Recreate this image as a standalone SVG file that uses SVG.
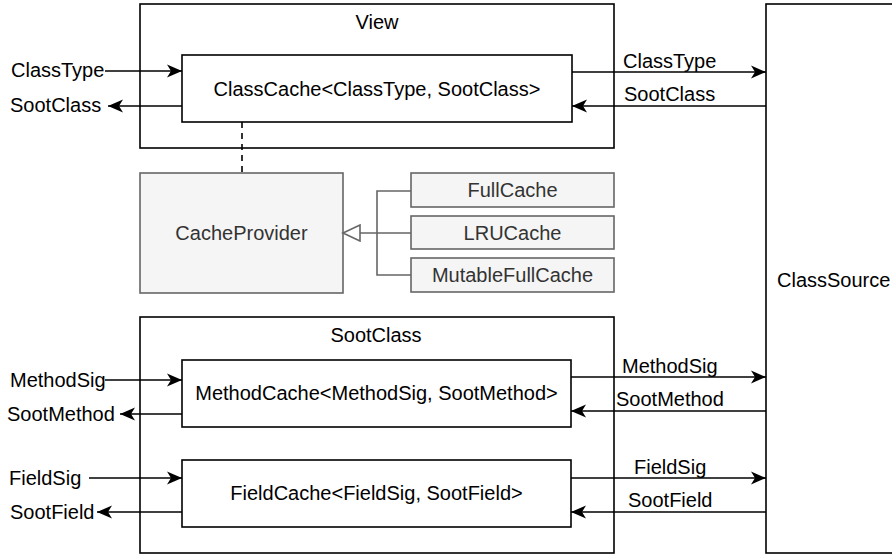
<svg xmlns="http://www.w3.org/2000/svg" width="892" height="556" viewBox="0 0 892 556">
<style>
text{font-family:"Liberation Sans",Arial,sans-serif;font-size:20px;fill:#000}
.c{text-anchor:middle}
.g text,.g{fill:#333}
.box{fill:#fff;stroke:#000;stroke-width:1.6}
.gbox{fill:#f5f5f5;stroke:#666;stroke-width:1.6}
.ln{fill:none;stroke:#000;stroke-width:1.6}
.gl{fill:none;stroke:#666;stroke-width:1.6}
</style>
<defs>
<marker id="arr" markerUnits="userSpaceOnUse" markerWidth="16" markerHeight="14" refX="15" refY="7" orient="auto">
<path d="M0,0.5 L15,7 L0,13.5 L4,7 Z" fill="#000"/>
</marker>
<marker id="tri" markerUnits="userSpaceOnUse" markerWidth="20" markerHeight="18" refX="18" refY="9" orient="auto">
<path d="M1,1 L18,9 L1,17 Z" fill="#fff" stroke="#666" stroke-width="1.6"/>
</marker>
</defs>
<g id="classsource"><rect class="box" x="766" y="4" width="132" height="549"/><text x="777" y="287">ClassSource</text></g>
<g id="view"><rect class="box" x="140" y="4" width="474" height="144"/><text class="c" x="377" y="29">View</text></g>
<g id="sootclass"><rect class="box" x="140" y="317" width="474" height="236"/><text class="c" x="376" y="342">SootClass</text></g>
<g id="classcache"><rect class="box" x="182" y="55" width="390" height="67"/><text class="c" x="377" y="95.5">ClassCache&lt;ClassType, SootClass&gt;</text></g>
<g id="methodcache"><rect class="box" x="182" y="360" width="389" height="67"/><text class="c" x="376.5" y="400">MethodCache&lt;MethodSig, SootMethod&gt;</text></g>
<g id="fieldcache"><rect class="box" x="182" y="460" width="389" height="67"/><text class="c" x="376.5" y="500">FieldCache&lt;FieldSig, SootField&gt;</text></g>
<g id="cacheprovider" class="g"><rect class="gbox" x="140" y="173" width="203" height="120"/><text class="c" x="241.5" y="240">CacheProvider</text></g>
<g id="fullcache" class="g"><rect class="gbox" x="411" y="173" width="203" height="34"/><text class="c" x="512.5" y="197">FullCache</text></g>
<g id="lrucache" class="g"><rect class="gbox" x="411" y="216" width="203" height="33"/><text class="c" x="512.5" y="239.5">LRUCache</text></g>
<g id="mutablefullcache" class="g"><rect class="gbox" x="411" y="258" width="203" height="34"/><text class="c" x="512.5" y="282">MutableFullCache</text></g>
<g id="connectors">
<line class="ln" x1="242" y1="122" x2="242" y2="173" stroke-dasharray="6,5"/>
<path class="gl" d="M411,191 H377 V275 H411 M411,233 H377"/>
<line class="gl" x1="377" y1="233" x2="343" y2="233" marker-end="url(#tri)"/>
<line class="ln" x1="105" y1="71" x2="182" y2="71" marker-end="url(#arr)"/>
<line class="ln" x1="182" y1="106" x2="108" y2="106" marker-end="url(#arr)"/>
<line class="ln" x1="572" y1="72" x2="766" y2="72" marker-end="url(#arr)"/>
<line class="ln" x1="766" y1="106" x2="572" y2="106" marker-end="url(#arr)"/>
<line class="ln" x1="105" y1="380" x2="182" y2="380" marker-end="url(#arr)"/>
<line class="ln" x1="182" y1="414" x2="120" y2="414" marker-end="url(#arr)"/>
<line class="ln" x1="571" y1="377" x2="766" y2="377" marker-end="url(#arr)"/>
<line class="ln" x1="766" y1="411" x2="571" y2="411" marker-end="url(#arr)"/>
<line class="ln" x1="89" y1="478" x2="182" y2="478" marker-end="url(#arr)"/>
<line class="ln" x1="182" y1="512" x2="97" y2="512" marker-end="url(#arr)"/>
<line class="ln" x1="571" y1="478" x2="766" y2="478" marker-end="url(#arr)"/>
<line class="ln" x1="766" y1="512" x2="571" y2="512" marker-end="url(#arr)"/>
<text x="11" y="77">ClassType</text>
<text x="10" y="112">SootClass</text>
<text x="623" y="68">ClassType</text>
<text x="624" y="101">SootClass</text>
<text x="10" y="387">MethodSig</text>
<text x="7" y="421">SootMethod</text>
<text x="9" y="485">FieldSig</text>
<text x="10" y="519">SootField</text>
<text x="622" y="373">MethodSig</text>
<text x="616" y="406">SootMethod</text>
<text x="634" y="474">FieldSig</text>
<text x="628" y="507">SootField</text>
</g>
</svg>
